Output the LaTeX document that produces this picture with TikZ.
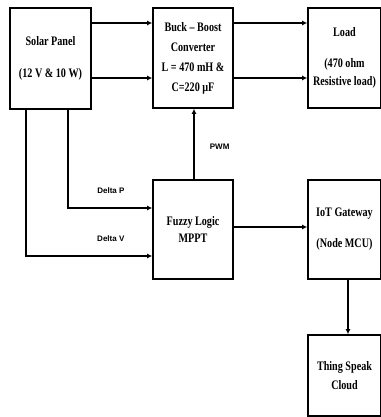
\documentclass[tikz,border=0pt]{standalone}
\usepackage{fontspec}
\setmainfont{Liberation Serif}[FakeStretch=0.78]
\newfontfamily\tagfont{Liberation Sans}
\usepackage{tikz}
\usetikzlibrary{arrows.meta,positioning}

\begin{document}
\begin{tikzpicture}[x=1pt,y=-1pt,
box/.style={draw,line width=1.6pt,align=center,inner sep=1pt,font=\bfseries\fontsize{13}{15}\selectfont},
arr/.style={-{Latex[length=5pt,width=5pt]},line width=1.8pt},
sarr/.style={-{Latex[length=5pt,width=5pt]},line width=1.1pt},
tag/.style={font=\tagfont\bfseries\fontsize{8}{9}\selectfont}]
\useasboundingbox (0,0) rectangle (380,417);
\node[box,minimum width=81pt,minimum height=101pt] (s) at (50.5,58.5) {Solar Panel\\[17pt](12 V \& 10 W)};
\node[box,minimum width=80pt,minimum height=100pt] (b) at (193,58) {Buck -- Boost\\[5pt]Converter\\[5pt]L = 470 mH \&\\[5pt]C=220 µF};
\node[box,minimum width=73pt,minimum height=100pt] (l) at (344.5,58) {Load\\[16pt](470 ohm\\[3pt]Resistive load)};
\node[box,minimum width=80pt,minimum height=99pt] (f) at (193,229.5) {Fuzzy Logic\\[2pt]MPPT};
\node[box,minimum width=73pt,minimum height=99pt] (g) at (344.5,229.5) {IoT Gateway\\[16pt](Node MCU)};
\node[box,minimum width=73pt,minimum height=81pt] (t) at (344.5,375.5) {Thing Speak\\[4pt]Cloud};
\draw[arr] (s.east |- 0,23)--(b.west |- 0,23);\draw[arr] (s.east |- 0,78)--(b.west |- 0,78);
\draw[arr] (b.east |- 0,23)--(l.west |- 0,23);\draw[arr] (b.east |- 0,78)--(l.west |- 0,78);
\draw[sarr] (s.south -| 68,0) |- node[tag,pos=0.755,above=11pt]{Delta P}(f.west |- 0,208);
\draw[sarr] (s.south -| 26,0) |- node[tag,pos=0.836,above=11pt]{Delta V}(f.west |- 0,256);
\draw[sarr] (f.north -| 194,0)--node[tag,pos=0.46,right=12pt]{PWM}(b.south -| 194,0);
\draw[arr] (f.east |- 0,227)--(g.west |- 0,227);
\draw[sarr] (g.south -| 348,0)--(t.north -| 348,0);
\end{tikzpicture}
\end{document}
